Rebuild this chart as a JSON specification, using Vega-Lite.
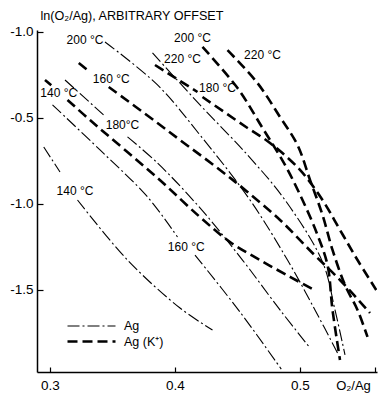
{
  "$schema": "https://vega.github.io/schema/vega-lite/v6.json",
  "width": 340,
  "height": 342,
  "autosize": "none",
  "padding": {"left": 37, "top": 30, "right": 2, "bottom": 23},
  "background": "white",
  "config": {
    "view": {"stroke": null},
    "font": "Liberation Sans",
    "axis": {"domainColor": "black", "tickColor": "black", "labelColor": "black", "titleColor": "black", "grid": false, "labelFont": "Liberation Sans", "titleFont": "Liberation Sans", "titleFontWeight": "normal"},
    "legend": {"labelFont": "Liberation Sans"}
  },
  "datasets": {
    "curves": [
      {"t": "Ag", "s": "A140a", "x": 0.295, "y": -0.669},
      {"t": "Ag", "s": "A140a", "x": 0.308, "y": -0.814},
      {"t": "Ag", "s": "A140b", "x": 0.322, "y": -0.977},
      {"t": "Ag", "s": "A140b", "x": 0.362, "y": -1.326},
      {"t": "Ag", "s": "A140b", "x": 0.404, "y": -1.605},
      {"t": "Ag", "s": "A140b", "x": 0.430, "y": -1.733},

      {"t": "Ag", "s": "A160a", "x": 0.302, "y": -0.424},
      {"t": "Ag", "s": "A160a", "x": 0.340, "y": -0.686},
      {"t": "Ag", "s": "A160a", "x": 0.378, "y": -0.959},
      {"t": "Ag", "s": "A160a", "x": 0.402, "y": -1.192},
      {"t": "Ag", "s": "A160b", "x": 0.416, "y": -1.297},
      {"t": "Ag", "s": "A160b", "x": 0.452, "y": -1.628},
      {"t": "Ag", "s": "A160b", "x": 0.485, "y": -1.960},

      {"t": "Ag", "s": "A180a", "x": 0.312, "y": -0.279},
      {"t": "Ag", "s": "A180a", "x": 0.343, "y": -0.483},
      {"t": "Ag", "s": "A180b", "x": 0.362, "y": -0.610},
      {"t": "Ag", "s": "A180b", "x": 0.386, "y": -0.762},
      {"t": "Ag", "s": "A180b", "x": 0.420, "y": -1.023},
      {"t": "Ag", "s": "A180b", "x": 0.454, "y": -1.326},
      {"t": "Ag", "s": "A180b", "x": 0.484, "y": -1.616},
      {"t": "Ag", "s": "A180b", "x": 0.508, "y": -1.837},

      {"t": "Ag", "s": "A200", "x": 0.344, "y": -0.058},
      {"t": "Ag", "s": "A200", "x": 0.386, "y": -0.308},
      {"t": "Ag", "s": "A200", "x": 0.420, "y": -0.599},
      {"t": "Ag", "s": "A200", "x": 0.460, "y": -0.977},
      {"t": "Ag", "s": "A200", "x": 0.490, "y": -1.326},
      {"t": "Ag", "s": "A200", "x": 0.512, "y": -1.616},
      {"t": "Ag", "s": "A200", "x": 0.530, "y": -1.866},

      {"t": "Ag", "s": "A220", "x": 0.382, "y": -0.122},
      {"t": "Ag", "s": "A220", "x": 0.420, "y": -0.424},
      {"t": "Ag", "s": "A220", "x": 0.458, "y": -0.715},
      {"t": "Ag", "s": "A220", "x": 0.488, "y": -0.977},
      {"t": "Ag", "s": "A220", "x": 0.518, "y": -1.337},
      {"t": "Ag", "s": "A220", "x": 0.528, "y": -1.616},
      {"t": "Ag", "s": "A220", "x": 0.536, "y": -1.878},

      {"t": "Ag (K⁺)", "s": "K140a", "x": 0.296, "y": -0.279},
      {"t": "Ag (K⁺)", "s": "K140a", "x": 0.301, "y": -0.310},
      {"t": "Ag (K⁺)", "s": "K140b", "x": 0.314, "y": -0.395},
      {"t": "Ag (K⁺)", "s": "K140b", "x": 0.332, "y": -0.512},
      {"t": "Ag (K⁺)", "s": "K140b", "x": 0.386, "y": -0.849},
      {"t": "Ag (K⁺)", "s": "K140b", "x": 0.420, "y": -1.076},
      {"t": "Ag (K⁺)", "s": "K140b", "x": 0.444, "y": -1.221},
      {"t": "Ag (K⁺)", "s": "K140b", "x": 0.468, "y": -1.326},
      {"t": "Ag (K⁺)", "s": "K140b", "x": 0.492, "y": -1.424},
      {"t": "Ag (K⁺)", "s": "K140b", "x": 0.510, "y": -1.494},

      {"t": "Ag (K⁺)", "s": "K160a", "x": 0.323, "y": -0.180},
      {"t": "Ag (K⁺)", "s": "K160a", "x": 0.332, "y": -0.233},
      {"t": "Ag (K⁺)", "s": "K160b", "x": 0.347, "y": -0.320},
      {"t": "Ag (K⁺)", "s": "K160b", "x": 0.386, "y": -0.529},
      {"t": "Ag (K⁺)", "s": "K160b", "x": 0.404, "y": -0.628},
      {"t": "Ag (K⁺)", "s": "K160b", "x": 0.436, "y": -0.802},
      {"t": "Ag (K⁺)", "s": "K160b", "x": 0.458, "y": -0.930},
      {"t": "Ag (K⁺)", "s": "K160b", "x": 0.484, "y": -1.093},
      {"t": "Ag (K⁺)", "s": "K160b", "x": 0.510, "y": -1.285},
      {"t": "Ag (K⁺)", "s": "K160b", "x": 0.532, "y": -1.442},
      {"t": "Ag (K⁺)", "s": "K160b", "x": 0.556, "y": -1.634},

      {"t": "Ag (K⁺)", "s": "K180a", "x": 0.384, "y": -0.192},
      {"t": "Ag (K⁺)", "s": "K180a", "x": 0.418, "y": -0.349},
      {"t": "Ag (K⁺)", "s": "K180b", "x": 0.422, "y": -0.378},
      {"t": "Ag (K⁺)", "s": "K180b", "x": 0.458, "y": -0.558},
      {"t": "Ag (K⁺)", "s": "K180b", "x": 0.476, "y": -0.645},
      {"t": "Ag (K⁺)", "s": "K180b", "x": 0.500, "y": -0.802},
      {"t": "Ag (K⁺)", "s": "K180b", "x": 0.518, "y": -0.977},
      {"t": "Ag (K⁺)", "s": "K180b", "x": 0.532, "y": -1.151},
      {"t": "Ag (K⁺)", "s": "K180b", "x": 0.546, "y": -1.326},
      {"t": "Ag (K⁺)", "s": "K180b", "x": 0.561, "y": -1.500},

      {"t": "Ag (K⁺)", "s": "K200", "x": 0.422, "y": -0.087},
      {"t": "Ag (K⁺)", "s": "K200", "x": 0.450, "y": -0.326},
      {"t": "Ag (K⁺)", "s": "K200", "x": 0.470, "y": -0.558},
      {"t": "Ag (K⁺)", "s": "K200", "x": 0.488, "y": -0.773},
      {"t": "Ag (K⁺)", "s": "K200", "x": 0.502, "y": -0.977},
      {"t": "Ag (K⁺)", "s": "K200", "x": 0.514, "y": -1.180},
      {"t": "Ag (K⁺)", "s": "K200", "x": 0.522, "y": -1.355},
      {"t": "Ag (K⁺)", "s": "K200", "x": 0.526, "y": -1.616},
      {"t": "Ag (K⁺)", "s": "K200", "x": 0.532, "y": -1.907},

      {"t": "Ag (K⁺)", "s": "K220", "x": 0.442, "y": -0.105},
      {"t": "Ag (K⁺)", "s": "K220", "x": 0.466, "y": -0.297},
      {"t": "Ag (K⁺)", "s": "K220", "x": 0.484, "y": -0.494},
      {"t": "Ag (K⁺)", "s": "K220", "x": 0.498, "y": -0.657},
      {"t": "Ag (K⁺)", "s": "K220", "x": 0.508, "y": -0.860},
      {"t": "Ag (K⁺)", "s": "K220", "x": 0.518, "y": -1.064},
      {"t": "Ag (K⁺)", "s": "K220", "x": 0.526, "y": -1.267},
      {"t": "Ag (K⁺)", "s": "K220", "x": 0.536, "y": -1.471},
      {"t": "Ag (K⁺)", "s": "K220", "x": 0.546, "y": -1.616},
      {"t": "Ag (K⁺)", "s": "K220", "x": 0.554, "y": -1.773}
    ],
    "labels": [
      {"label": "200 °C", "x": 0.328, "y": -0.047},
      {"label": "160 °C", "x": 0.349, "y": -0.273},
      {"label": "140 °C", "x": 0.307, "y": -0.355},
      {"label": "180°C", "x": 0.358, "y": -0.541},
      {"label": "200 °C", "x": 0.414, "y": -0.035},
      {"label": "220 °C", "x": 0.406, "y": -0.157},
      {"label": "180 °C", "x": 0.434, "y": -0.326},
      {"label": "220 °C", "x": 0.470, "y": -0.134},
      {"label": "140 °C", "x": 0.320, "y": -0.924},
      {"label": "160 °C", "x": 0.409, "y": -1.250}
    ]
  },
  "layer": [
    {
      "data": {"name": "curves"},
      "mark": {"type": "line", "color": "black", "interpolate": "catmull-rom", "clip": true},
      "encoding": {
        "x": {
          "field": "x", "type": "quantitative",
          "scale": {"domain": [0.2896, 0.5616], "nice": false, "zero": false},
          "axis": {
            "values": [0.3, 0.4, 0.5, 0.56],
            "labelExpr": "datum.value > 0.55 ? '' : format(datum.value, '.1f')",
            "tickSize": -5, "labelPadding": 11, "labelFontSize": 13.5, "domainWidth": 1.5, "tickWidth": 1.2,
            "title": "O₂/Ag", "titleFontSize": 13, "titleX": 316, "titleY": 13, "titleBaseline": "middle", "titleAlign": "center"
          }
        },
        "y": {
          "field": "y", "type": "quantitative",
          "scale": {"domain": [-1.977, 0.0116], "nice": false, "zero": false},
          "axis": {
            "values": [0, -0.5, -1, -1.5],
            "labelExpr": "datum.value == 0 ? '-1.0' : datum.value == -0.5 ? '-0.5' : datum.value == -1 ? '-1.0' : '-1.5'",
            "tickSize": -6, "labelPadding": 10, "labelFontSize": 13.5, "domainWidth": 1.5, "tickWidth": 1.2,
            "title": "ln(O₂/Ag), ARBITRARY OFFSET", "titleFontSize": 12.6, "titleAngle": 0,
            "titleX": 3, "titleY": -15, "titleAlign": "left", "titleBaseline": "middle"
          }
        },
        "detail": {"field": "s"},
        "strokeDash": {
          "field": "t", "type": "nominal",
          "scale": {"domain": ["Ag", "Ag (K⁺)"], "range": [[12, 3, 2, 3], [10, 5]]},
          "legend": {"orient": "none", "legendX": 47, "legendY": 289, "title": null, "symbolType": "M-4,0H4", "symbolSize": 144, "symbolStrokeColor": "black", "labelFontSize": 12.5, "labelOffset": 25, "rowPadding": 1}
        },
        "strokeWidth": {
          "field": "t", "type": "nominal",
          "scale": {"domain": ["Ag", "Ag (K⁺)"], "range": [1.1, 2.6]},
          "legend": {"orient": "none", "legendX": 47, "legendY": 289, "title": null, "symbolType": "M-4,0H4", "symbolSize": 144, "symbolStrokeColor": "black", "labelFontSize": 12.5, "labelOffset": 25, "rowPadding": 1}
        }
      }
    },
    {
      "data": {"name": "labels"},
      "mark": {"type": "text", "fontSize": 12, "color": "black", "font": "Liberation Sans"},
      "encoding": {
        "x": {"field": "x", "type": "quantitative"},
        "y": {"field": "y", "type": "quantitative"},
        "text": {"field": "label"}
      }
    }
  ]
}
